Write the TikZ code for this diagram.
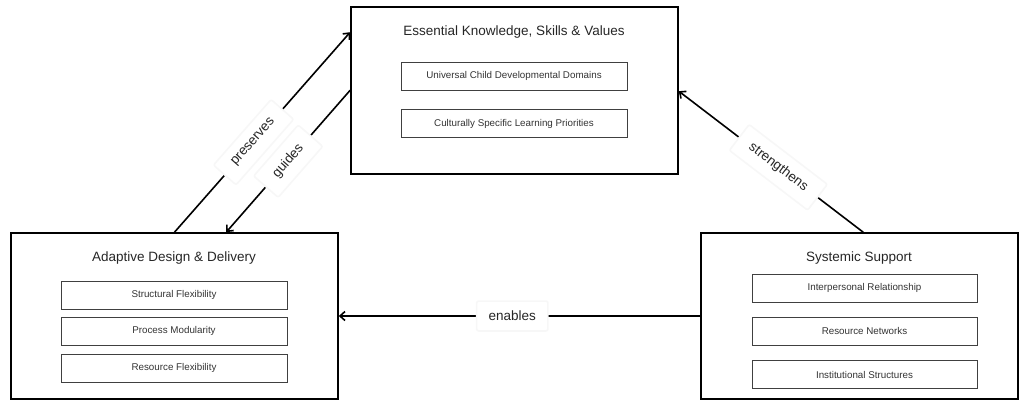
\documentclass[tikz,border=0pt]{standalone}
\usepackage{fontspec}
\setmainfont{Liberation Sans}
\usetikzlibrary{calc,arrows.meta}
\tikzset{>={Straight Barb[length=5pt,width=9pt]}}
\tikzstyle{group}  =[draw=black,line width=1.6pt,minimum width=327pt,minimum height=166pt,inner sep=0pt]
\tikzstyle{facet}  =[draw=black!75,line width=0.8pt,minimum width=226pt,minimum height=28pt,inner sep=0pt,
                     text=black!80,font=\fontsize{9.8}{11}\selectfont]
\tikzstyle{heading}=[text=black!85,font=\fontsize{13.5}{16}\selectfont]
\tikzstyle{flow}   =[->,line width=1.6pt]
\tikzstyle{rel}    =[sloped,fill=white,draw=black!3,rounded corners=2pt,inner xsep=14pt,inner ysep=10pt,
                     text=black!85,font=\fontsize{13.5}{16}\selectfont]

\begin{document}
\begin{tikzpicture}[x=1pt,y=-1pt]
  \useasboundingbox (0,0) rectangle (1019,400);

  % Outer groups
  \node[group,minimum height=167pt] (ek) at (514.5,90.5) {};
  \node[group] (ad) at (174.5,316) {};
  \node[group,minimum width=317pt] (ss) at (859.5,316) {};

  % Headings
  \node[heading] (ekT) at (514,32)  {Essential Knowledge, Skills \& Values};
  \node[heading] (adT) at (174,258) {Adaptive Design \& Delivery};
  \node[heading] (ssT) at (859,258) {Systemic Support};

  % Facets of each group
  \node[facet] (ek1) at (514,76)    {Universal Child Developmental Domains};
  \node[facet] (ek2) at (514,123.5) {Culturally Specific Learning Priorities};

  \node[facet] (ad1) at (174,295) {Structural Flexibility};
  \node[facet] (ad2) at (174,331) {Process Modularity};
  \node[facet] (ad3) at (174,368) {Resource Flexibility};

  \node[facet,minimum width=225pt] (ss1) at (864.5,288)   {Interpersonal Relationship};
  \node[facet,minimum width=225pt] (ss2) at (864.5,331)   {Resource Networks};
  \node[facet,minimum width=225pt] (ss3) at (864.5,374.5) {Institutional Structures};

  % Relations
  \draw[flow] (ad.north) -- ($(ek.north west)+(0,26)$)
    node[rel,pos=0.45] {preserves};
  \draw[flow] ($(ek.north west)+(0,84)$) -- ($(ad.north west)+(216,0)$)
    node[rel,pos=0.5] {guides};
  \draw[flow] ($(ss.north west)+(163,0)$) -- ($(ek.north east)+(0,85)$)
    node[rel,pos=0.46] {strengthens};
  \draw[flow] (ss.west) -- (ad.east)
    node[rel,pos=0.52,inner xsep=12pt] {enables};
\end{tikzpicture}
\end{document}
